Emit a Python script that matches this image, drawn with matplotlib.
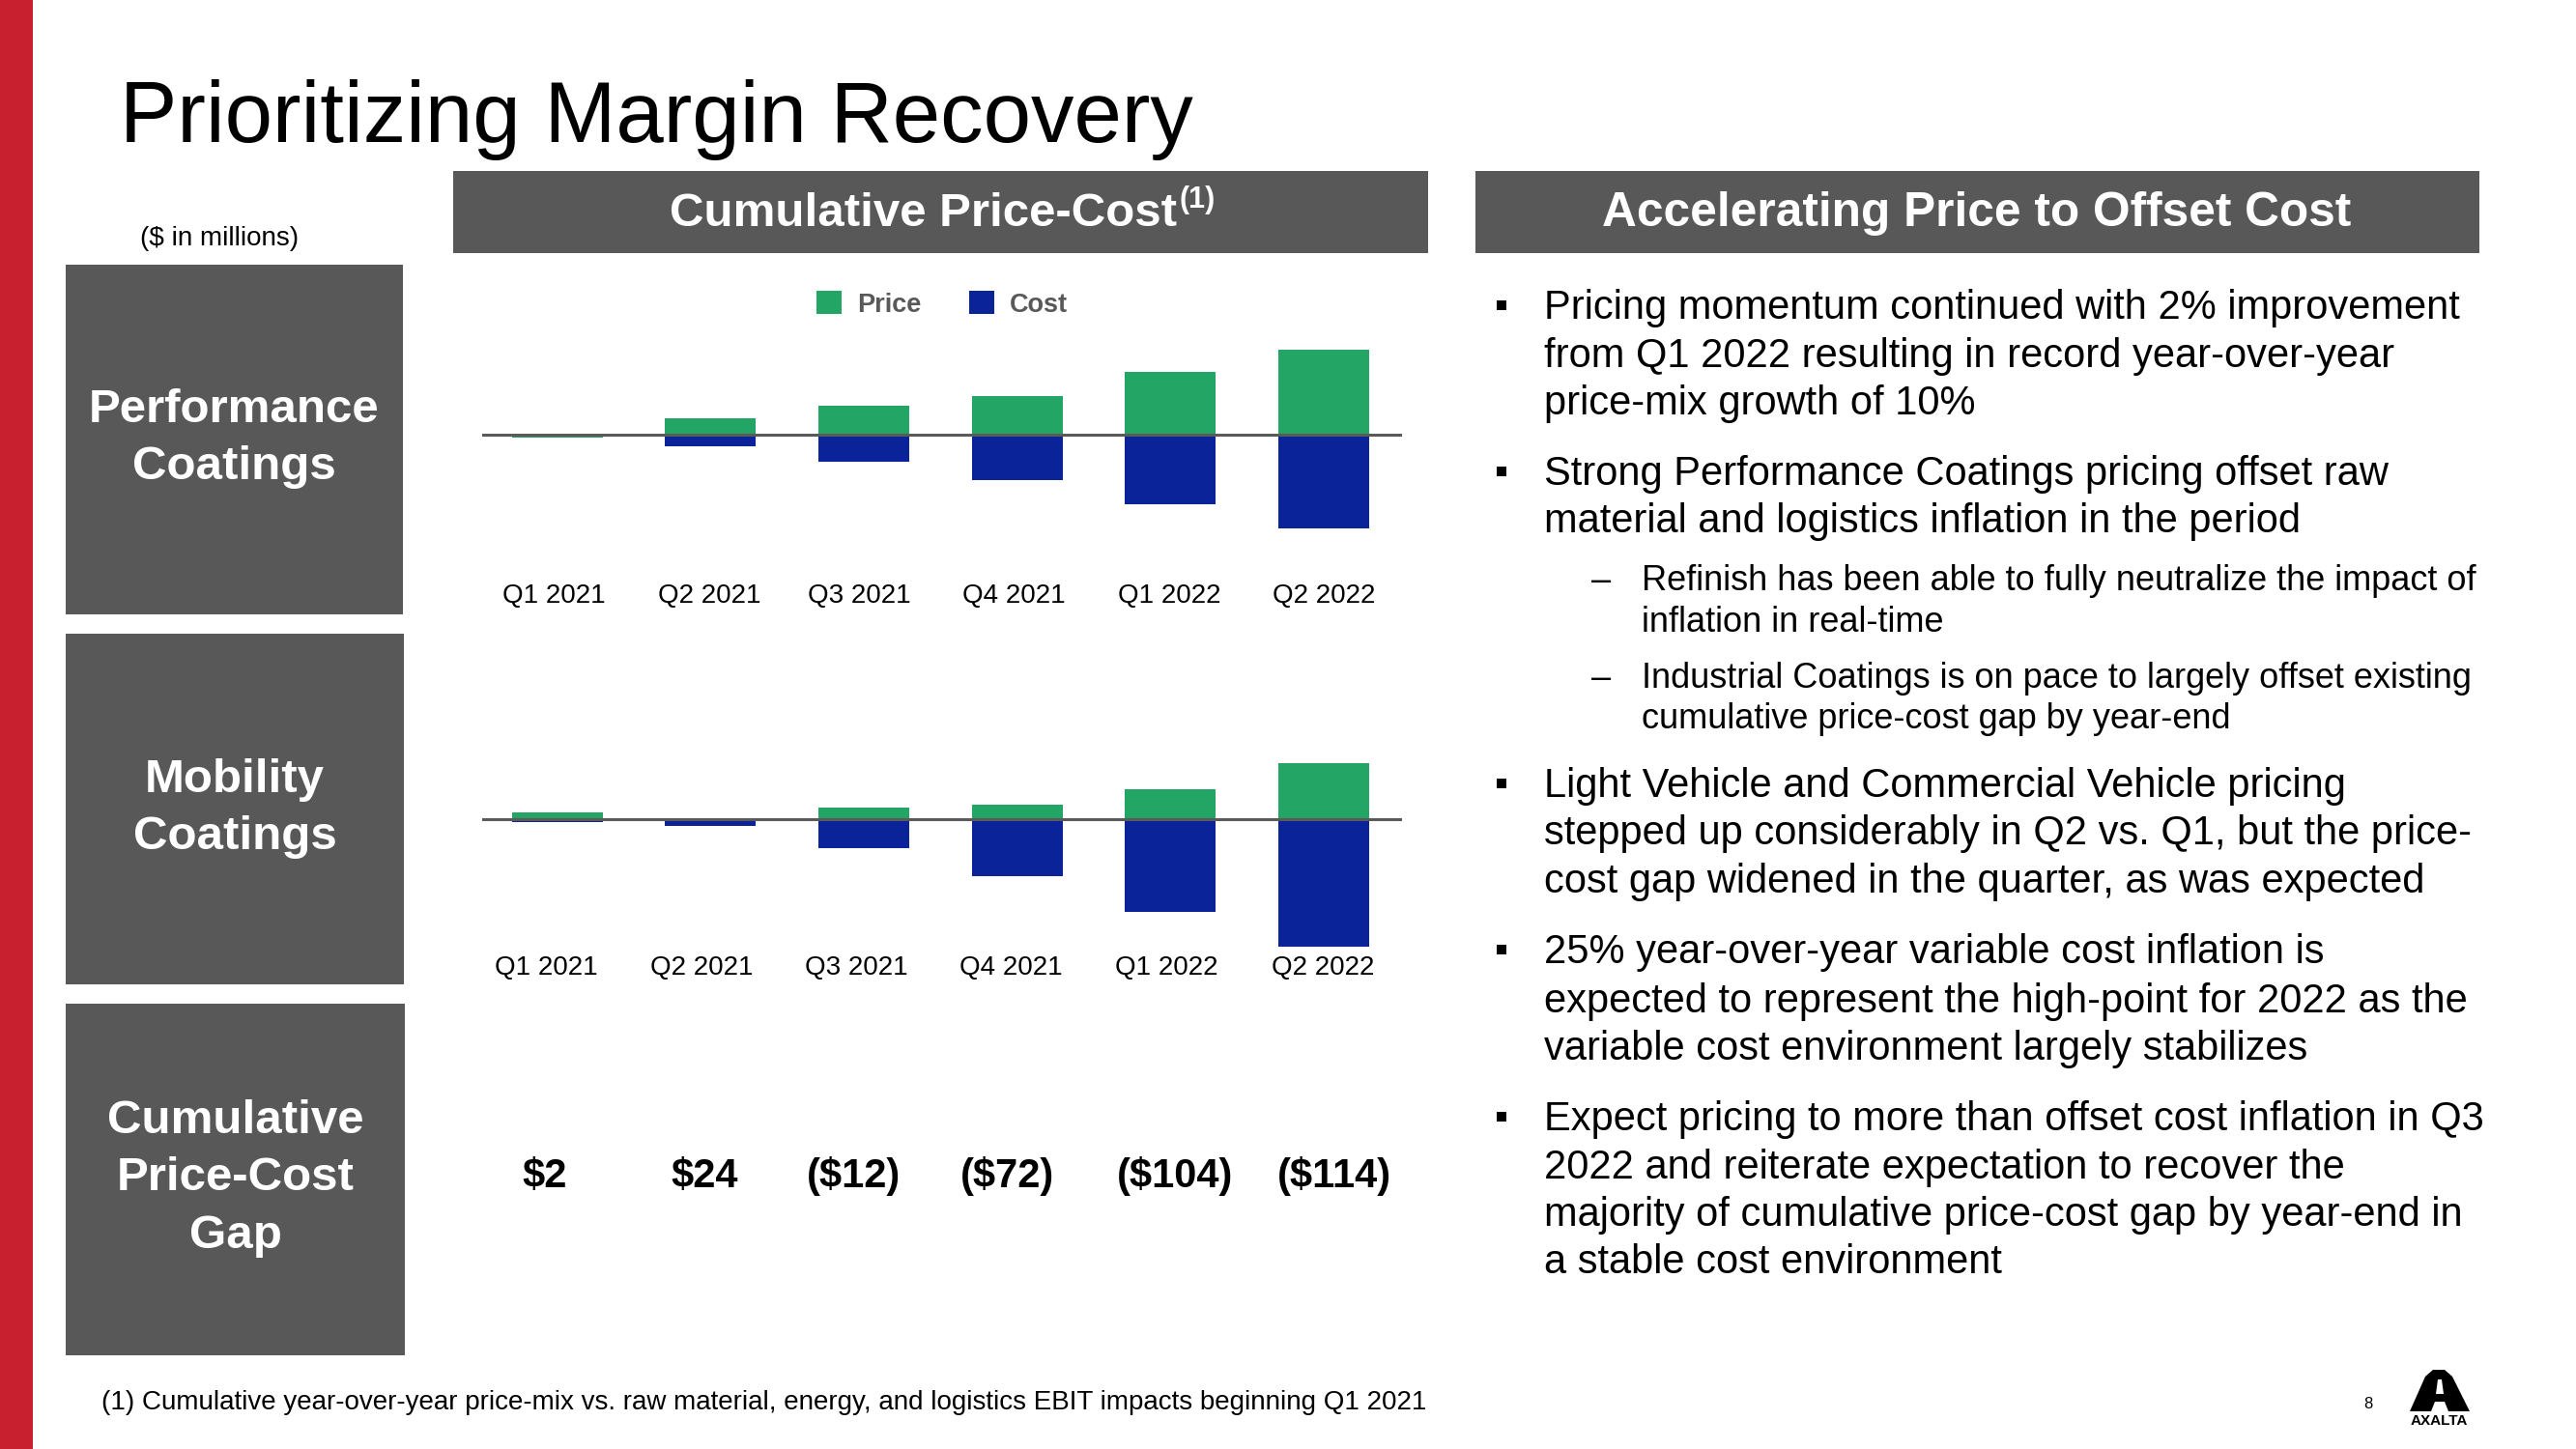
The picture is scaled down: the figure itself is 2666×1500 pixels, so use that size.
import numpy as np
from matplotlib import pyplot as plt
from matplotlib.patches import Rectangle, Polygon

plt.rcParams['font.family'] = ['Liberation Sans', 'DejaVu Sans']

W, H = 2666, 1500

# chart data ($ in millions)
quarters = ['Q1 2021', 'Q2 2021', 'Q3 2021', 'Q4 2021', 'Q1 2022', 'Q2 2022']
perf_price = [-3.5, 23, 41, 55, 89, 120]
perf_cost = [0, -16, -38, -64, -98, -132]
mob_price = [10, 1, 16, 21, 42, 79]
mob_cost = [-4, -10, -41, -81, -131, -181]
gap_labels = ['$2', '$24', '($12)', '($72)', '($104)', '($114)']

green = '#22A565'
blue = '#0B2399'
gray = '#585858'


def fx(x):
    return x / W


def fy(y):
    return 1 - y / H


fig = plt.figure(figsize=(W / 100, H / 100), dpi=100)


def rect(x0, y0, x1, y1, color):
    # rectangle given in slide pixels (top-left origin)
    fig.patches.append(Rectangle((fx(x0), fy(y1)), fx(x1) - fx(x0), fy(y0) - fy(y1),
                                 transform=fig.transFigure, color=color, lw=0))


rect(0, 0, 34, H, '#C8202F')  # red strip

fig.text(fx(124), fy(147), 'Prioritizing Margin Recovery', fontsize=64, va='baseline', ha='left')
fig.text(fx(145), fy(247), '($ in millions)', fontsize=20, va='center', ha='left')

# left boxes
rect(68, 274, 417, 636, gray)
rect(68, 656, 418, 1019, gray)
rect(68, 1039, 419, 1403, gray)
box_kw = dict(color='white', fontweight='bold', fontsize=35.5, ha='center', va='center', linespacing=1.42)
fig.text(fx(242), fy(454), 'Performance\nCoatings', **box_kw)
fig.text(fx(243), fy(837), 'Mobility\nCoatings', **box_kw)
fig.text(fx(244), fy(1220), 'Cumulative\nPrice-Cost\nGap', **box_kw)

# header bars
rect(469, 177, 1478, 262, gray)
rect(1527, 177, 2566, 262, gray)
fig.text(fx(1218), fy(221), 'Cumulative Price-Cost', color='white', fontweight='bold',
         fontsize=35.5, ha='right', va='center')
fig.text(fx(1220), fy(207), '(1)', color='white', fontweight='bold', fontsize=22, ha='left', va='center')
fig.text(fx(2046), fy(221), 'Accelerating Price to Offset Cost', color='white', fontweight='bold',
         fontsize=35.7, ha='center', va='center')


def bar_chart(top, bottom, ylim, price, cost, tick_shift):
    ax = fig.add_axes([fx(499), fy(bottom), fx(1451) - fx(499), (bottom - top) / H])
    x = np.arange(len(quarters))
    bp = ax.bar(x, price, width=0.593, color=green)
    bc = ax.bar(x, cost, width=0.593, color=blue)
    ax.axhline(0, color='#5a5a5a', lw=2.2, zorder=3)
    ax.set_xlim(-0.49, 5.51)
    ax.set_ylim(*ylim)
    for s in ax.spines.values():
        s.set_visible(False)
    ax.set_yticks([])
    ax.set_xticks(x + np.array(tick_shift), quarters)
    ax.tick_params(axis='x', length=0, labelsize=20, pad=3)
    return ax, bp, bc


ax1, bp, bc = bar_chart(300, 600, (-205, 205), perf_price, perf_cost,
                        [-0.02, -0.01, -0.03, -0.02, -0.01, 0])
ax2, _, _ = bar_chart(700, 985, (-187.4, 202.5), mob_price, mob_cost,
                      [-0.075, -0.06, -0.05, -0.04, -0.025, -0.005])

fig.legend([bp, bc], ['Price', 'Cost'], loc='center', bbox_to_anchor=(fx(975), fy(315)),
           ncol=2, frameon=False, handlelength=0.97, handleheight=0.97, handletextpad=0.58,
           columnspacing=1.83, borderpad=0, prop=dict(size=19.5, weight='bold'), labelcolor='#595959')

# cumulative gap row
gap_x = [564, 729, 884, 1043, 1216, 1381]
for gx, g in zip(gap_x, gap_labels):
    fig.text(fx(gx), fy(1218), g, ha='center', va='center', fontsize=30, fontweight='bold')

# right-hand commentary
bullets = [
    (0, [316, 366, 415], ['Pricing momentum continued with 2% improvement',
                          'from Q1 2022 resulting in record year-over-year',
                          'price-mix growth of 10%']),
    (0, [488, 537], ['Strong Performance Coatings pricing offset raw',
                     'material and logistics inflation in the period']),
    (1, [598, 641], ['Refinish has been able to fully neutralize the impact of',
                     'inflation in real-time']),
    (1, [699, 741], ['Industrial Coatings is on pace to largely offset existing',
                     'cumulative price-cost gap by year-end']),
    (0, [811, 860, 910], ['Light Vehicle and Commercial Vehicle pricing',
                          'stepped up considerably in Q2 vs. Q1, but the price-',
                          'cost gap widened in the quarter, as was expected']),
    (0, [983, 1034, 1083], ['25% year-over-year variable cost inflation is',
                            'expected to represent the high-point for 2022 as the',
                            'variable cost environment largely stabilizes']),
    (0, [1156, 1206, 1255, 1304], ['Expect pricing to more than offset cost inflation in Q3',
                                   '2022 and reiterate expectation to recover the',
                                   'majority of cumulative price-cost gap by year-end in',
                                   'a stable cost environment']),
]
for level, ys, lines in bullets:
    if level == 0:
        rect(1549, ys[0] - 5, 1559, ys[0] + 5, 'black')
        tx, fs = 1598, 30
    else:
        fig.text(fx(1647), fy(ys[0] + 3), '\u2013', fontsize=26, ha='left', va='center')
        tx, fs = 1699, 26
    for y, line in zip(ys, lines):
        fig.text(fx(tx), fy(y + 3), line, fontsize=fs, ha='left', va='center')

# footnote, page number and logo
fig.text(fx(105), fy(1452), '(1) Cumulative year-over-year price-mix vs. raw material, energy, and logistics '
         'EBIT impacts beginning Q1 2021', fontsize=20, ha='left', va='center')
fig.text(fx(2451), fy(1453), '8', fontsize=12, ha='center', va='center')
arch = [(2494, 1461), (2510, 1425), (2518, 1418), (2530, 1418), (2538, 1425), (2556, 1461),
        (2534, 1461), (2530, 1451), (2520, 1451), (2516, 1461)]
fig.patches.append(Polygon([(fx(a), fy(b)) for a, b in arch], closed=True, transform=fig.transFigure,
                           color='black', lw=0))
slot = [(2523, 1428), (2527, 1428), (2529, 1443), (2521, 1443)]
fig.patches.append(Polygon([(fx(a), fy(b)) for a, b in slot], closed=True, transform=fig.transFigure,
                           color='white', lw=0))
fig.text(fx(2524), fy(1471), 'AXALTA', fontsize=11, fontweight='bold', ha='center', va='center')

fig.savefig('out.png', dpi=100)
